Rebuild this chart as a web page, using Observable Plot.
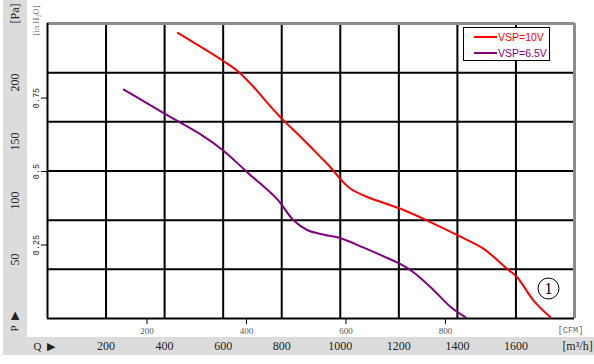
<!DOCTYPE html>
<html>
<head>
<meta charset="utf-8">
<script src="https://cdn.jsdelivr.net/npm/d3@7"></script>
<script src="https://cdn.jsdelivr.net/npm/@observablehq/plot@0.6"></script>
<style>
  html, body { margin: 0; padding: 0; background: #fff; }
  #wrap { position: relative; width: 594px; height: 364px; overflow: hidden; }
  .band { position: absolute; background: #dcdcdc; }
  #chart { position: absolute; left: 0; top: 0; }
  #legend { position: absolute; left: 463px; top: 27px; width: 85px; height: 32px;
            border: 1.5px solid #000; background: #fff; font-family: "Liberation Sans", Arial, sans-serif; font-size: 10.5px; }
  .row { position: absolute; left: 10px; height: 12px; display: flex; align-items: center; }
  .sw { width: 23px; height: 2px; margin-right: 1px; }
</style>
</head>
<body>
<div id="wrap">
  <div class="band" style="left:3px; top:0; width:24px; height:355px;"></div>
  <div class="band" style="left:3px; top:337px; width:591px; height:18px;"></div>
  <div id="chart"></div>
  <div id="legend"></div>
</div>
<script>
// ---- data (Q in m³/h, P in Pa) ----
const seriesNames = ["VSP=10V", "VSP=6.5V"];
const seriesColors = ["#ff0000", "#800080"];

const redQ = [445, 602, 648, 705, 750, 802, 864, 932, 967, 1001, 1035, 1092, 1160, 1206, 1297, 1405, 1490, 1570, 1604, 1661, 1718];
const redP = [242, 218, 210, 196, 183, 169, 154, 137, 128, 118, 110, 103, 97, 93, 83, 70, 59, 42, 35, 15, 1];

const purpleQ = [261, 397, 523, 602, 682, 785, 841, 887, 944, 1001, 1080, 1172, 1206, 1251, 1319, 1376, 1428];
const purpleP = [194, 174, 156, 142, 124, 101, 83, 75, 71, 68, 60, 50, 46, 39, 24, 10, 1];

// tick labels
const qTicks = [200, 400, 600, 800, 1000, 1200, 1400, 1600];      // m³/h
const paTicks = [50, 100, 150, 200];                               // Pa
const inTicks = [0.25, 0.5, 0.75];                                 // inH2O
const cfmTicks = [200, 400, 600, 800];                             // CFM
const gridQ = [200, 400, 600, 800, 1000, 1200, 1400, 1600];
const gridP = [250/6, 500/6, 750/6, 1000/6, 1250/6];

const xMax = 1800, yMax = 250;
const PA_PER_INH2O = 249.089;
const M3H_PER_CFM = 1.69901;

const red = redQ.map((q, i) => ({q, p: redP[i]}));
const purple = purpleQ.map((q, i) => ({q, p: purpleP[i]}));

const serif = "Liberation Serif, DejaVu Serif, serif";
const mono = "Liberation Mono, DejaVu Sans Mono, monospace";
const mid = {textAnchor: "middle", lineAnchor: "middle"};

const chart = Plot.plot({
  width: 594, height: 364,
  marginLeft: 47, marginRight: 20, marginTop: 23, marginBottom: 46,
  x: {domain: [0, xMax]},
  y: {domain: [0, yMax]},
  style: {background: "transparent", overflow: "visible"},
  marks: [
    Plot.ruleX(gridQ, {stroke: "#000", strokeWidth: 2}),
    Plot.ruleY(gridP, {stroke: "#000", strokeWidth: 2}),
    Plot.ruleY([yMax], {stroke: "#8c8c8c", strokeWidth: 3}),
    Plot.ruleX([xMax], {stroke: "#8c8c8c", strokeWidth: 3}),
    Plot.ruleY([0], {stroke: "#000", strokeWidth: 2}),
    Plot.ruleX([0], {stroke: "#000", strokeWidth: 2}),

    Plot.line(purple, {x: "q", y: "p", stroke: seriesColors[1], strokeWidth: 2, curve: "catmull-rom"}),
    Plot.line(red, {x: "q", y: "p", stroke: seriesColors[0], strokeWidth: 2, curve: "catmull-rom"}),

    // inH2O axis ticks + labels
    Plot.axisY(inTicks.map(v => v * PA_PER_INH2O), {anchor: "left", tickSize: 6, tickFormat: () => "", label: null}),
    Plot.text(inTicks, {y: d => d * PA_PER_INH2O, frameAnchor: "left", dx: -11, rotate: -90, ...mid,
      text: d => String(d), fontFamily: mono, fontSize: 8.5, fill: "#222"}),
    Plot.text(["[in H₂O]"], {frameAnchor: "top-left", dx: -11, dy: -3, rotate: -90, ...mid,
      fontFamily: serif, fontSize: 8.5, fill: "#777"}),

    // Pa labels in the gray band
    Plot.text(paTicks, {y: d => d, frameAnchor: "left", dx: -32, rotate: -90, ...mid,
      text: d => String(d), fontFamily: serif, fontSize: 12, fill: "#222"}),
    Plot.text(["[Pa]"], {frameAnchor: "top-left", dx: -32, dy: -10, rotate: -90, ...mid,
      fontFamily: serif, fontSize: 12, fill: "#222"}),
    Plot.text(["P\u00a0\u00a0▶"], {frameAnchor: "bottom-left", dx: -33, dy: 3, rotate: -90, ...mid,
      fontFamily: serif, fontSize: 11, fill: "#222"}),

    // CFM axis ticks + labels
    Plot.axisX(cfmTicks.map(v => v * M3H_PER_CFM), {anchor: "bottom", tickSize: 6, tickFormat: () => "", label: null}),
    Plot.text(cfmTicks, {x: d => d * M3H_PER_CFM, frameAnchor: "bottom", dy: 13, ...mid,
      text: d => String(d), fontFamily: serif, fontSize: 9, fill: "#555"}),
    Plot.text(["[CFM]"], {frameAnchor: "bottom-right", dx: -4, dy: 12, ...mid,
      fontFamily: mono, fontSize: 8.5, fill: "#666"}),

    // m³/h labels in the bottom gray band
    Plot.text(qTicks, {x: d => d, frameAnchor: "bottom", dy: 28, ...mid,
      text: d => String(d), fontFamily: serif, fontSize: 12, fill: "#222"}),
    Plot.text(["Q\u00a0\u00a0▶"], {frameAnchor: "bottom-left", dx: -3, dy: 28, ...mid,
      fontFamily: serif, fontSize: 11, fill: "#222"}),
    Plot.text(["[m³/h]"], {frameAnchor: "bottom-right", dx: 3, dy: 28, ...mid,
      fontFamily: serif, fontSize: 12, fill: "#222"}),

    // circled 1
    Plot.dot([0], {frameAnchor: "bottom-right", dx: -26, dy: -30, r: 10.5, stroke: "#000", strokeWidth: 1, fill: "white"}),
    Plot.text(["1"], {frameAnchor: "bottom-right", dx: -26, dy: -30, ...mid, fontFamily: serif, fontSize: 16, fill: "#000"})
  ]
});
document.getElementById("chart").appendChild(chart);

// legend
const legend = document.getElementById("legend");
seriesNames.forEach((name, i) => {
  const row = document.createElement("div");
  row.className = "row";
  row.style.top = (i === 0 ? 3 : 19) + "px";
  row.innerHTML = `<span class="sw" style="background:${seriesColors[i]}"></span><span style="color:${seriesColors[i]}">${name}</span>`;
  legend.appendChild(row);
});
</script>
</body>
</html>
